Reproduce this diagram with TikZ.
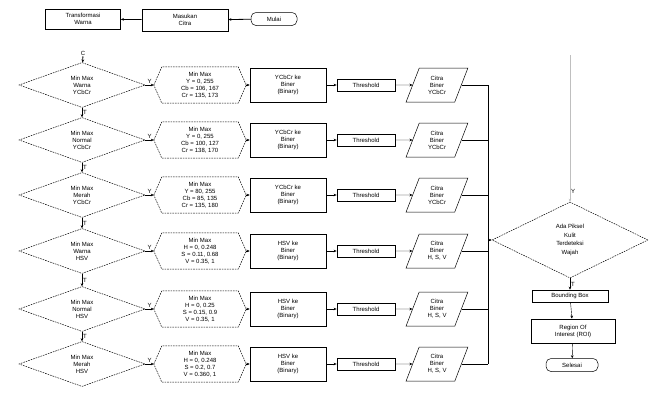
\documentclass[tikz,border=0pt]{standalone}
\usepackage{fontspec}
\setmainfont{Liberation Sans}
\usetikzlibrary{arrows.meta, positioning, shapes.geometric}

\begin{document}
\begin{tikzpicture}[x=1pt,y=-1pt,font=\fontsize{6}{7}\selectfont,>={Stealth[length=3pt,width=2.6pt]},
     proc/.style={draw,align=center,minimum width=76pt,minimum height=34pt,inner sep=1pt,line width=0.6pt},
     thr/.style={draw,align=center,minimum width=58pt,minimum height=12pt,inner sep=1pt,line width=0.8pt},
     dec/.style={diamond,draw,aspect=4,align=center,minimum width=126pt,minimum height=45pt,inner sep=0pt,
                 dash pattern=on 1.6pt off 1pt,line width=0.5pt},
     hexa/.style={align=center,minimum width=76pt,minimum height=36pt,inner sep=1pt},
     io/.style={trapezium,trapezium left angle=70,trapezium right angle=110,trapezium stretches=true,
                draw,align=center,minimum width=62pt,minimum height=34pt,inner sep=1pt,line width=0.5pt},
     term/.style={draw,rounded corners=5pt,align=center,minimum height=13pt,inner sep=1pt,line width=0.5pt},
     lbl/.style={font=\fontsize{6}{7}\selectfont,inner sep=1pt}]
  \useasboundingbox (0,0) rectangle (657,402);

  % top row
  \node[draw,line width=0.8pt,align=center,minimum width=75pt,minimum height=20pt,inner sep=1pt] (warna) at (83,19) {Transformasi\\Warna};
  \node[draw,line width=0.6pt,align=center,minimum width=86pt,minimum height=22pt,inner sep=1pt] (input) at (185,20) {Masukan\\Citra};
  \node[term,minimum width=46pt] (mulai) at (274,19) {Mulai};
  \node[lbl] (con) at (83,53) {C};
  \draw[->,thick] (mulai) -- (input);
  \draw[->,thick] (input) -- (warna);

  % colour tests
  \node[dec] (d1) at (82,85)  {Min Max\\Warna\\YCbCr};
  \node[dec] (d2) at (82,140) {Min Max\\Normal\\YCbCr};
  \node[dec] (d3) at (82,195) {Min Max\\Merah\\YCbCr};
  \node[dec] (d4) at (82,251) {Min Max\\Warna\\HSV};
  \node[dec] (d5) at (82,309) {Min Max\\Normal\\HSV};
  \node[dec] (d6) at (82,364) {Min Max\\Merah\\HSV};

  % thresholds
  \node[hexa] (h1) at (200,85)  {Min Max\\Y = 0, 255\\Cb = 106, 167\\Cr = 135, 173};
  \node[hexa] (h2) at (200,140) {Min Max\\Y = 0, 255\\Cb = 100, 127\\Cr = 138, 170};
  \node[hexa] (h3) at (200,195) {Min Max\\Y = 80, 255\\Cb = 85, 135\\Cr = 135, 180};
  \node[hexa] (h4) at (200,251) {Min Max\\H = 0, 0.248\\S = 0.11, 0.68\\V = 0.35, 1};
  \node[hexa] (h5) at (200,309) {Min Max\\H = 0, 0.25\\S = 0.15, 0.9\\V = 0.35, 1};
  \node[hexa] (h6) at (200,364) {Min Max\\H = 0, 0.248\\S = 0.2, 0.7\\V = 0.360, 1};
  \foreach \h in {h1,h2,h3,h4,h5,h6}
    \draw[dash pattern=on 1.6pt off 1pt,line width=0.5pt]
      ([xshift=-8]\h.west) -- (\h.north west) -- (\h.north east) -- ([xshift=8]\h.east)
      -- (\h.south east) -- (\h.south west) -- cycle;

  \node[proc] (b1) at (288,85)  {YCbCr ke\\Biner\\(Binary)};
  \node[proc] (b2) at (288,140) {YCbCr ke\\Biner\\(Binary)};
  \node[proc] (b3) at (288,195) {YCbCr ke\\Biner\\(Binary)};
  \node[proc] (b4) at (288,251) {HSV ke\\Biner\\(Binary)};
  \node[proc] (b5) at (288,309) {HSV ke\\Biner\\(Binary)};
  \node[proc] (b6) at (288,364) {HSV ke\\Biner\\(Binary)};

  \node[thr] (t1) at (366,85)  {Threshold};
  \node[thr] (t2) at (366,140) {Threshold};
  \node[thr] (t3) at (366,195) {Threshold};
  \node[thr] (t4) at (366,251) {Threshold};
  \node[thr] (t5) at (366,309) {Threshold};
  \node[thr] (t6) at (366,364) {Threshold};

  \node[io] (p1) at (437,85)  {Citra\\Biner\\YCbCr};
  \node[io] (p2) at (437,140) {Citra\\Biner\\YCbCr};
  \node[io] (p3) at (437,195) {Citra\\Biner\\YCbCr};
  \node[io] (p4) at (437,251) {Citra\\Biner\\H, S, V};
  \node[io] (p5) at (437,309) {Citra\\Biner\\H, S, V};
  \node[io] (p6) at (437,364) {Citra\\Biner\\H, S, V};

  \draw[->,thick] (con) -- (d1);
  \draw[->] (d1) -- node[lbl,right] {T} (d2);
  \draw[->] (d2) -- node[lbl,right] {T} (d3);
  \draw[->] (d3) -- node[lbl,right] {T} (d4);
  \draw[->] (d4) -- node[lbl,right] {T} (d5);
  \draw[->] (d5) -- node[lbl,right] {T} (d6);
  \foreach \i in {1,...,6} {
    \draw[->] (d\i) -- node[lbl,above] {Y} ([xshift=-8]h\i.west);
    \draw[->] ([xshift=8]h\i.east) -- (b\i);
    \draw[->] (b\i) -- (t\i);
    \draw[->] (t\i) -- (p\i);
  }

  % merge and decision
  \coordinate (bus1) at (488,85);
  \coordinate (bus6) at (488,364);
  \foreach \i in {1,...,6}
    \draw[thick] (p\i.east) -- (p\i.east -| bus1);
  \draw[thick] (bus1) -- (bus6);

  \node[dec,aspect=3,minimum width=156pt,minimum height=76pt,font=\fontsize{6}{8.5}\selectfont] (cek) at (570,240) {Ada Piksel\\Kulit\\Terdeteksi\\Wajah};
  \coordinate (loop) at (570,55);
  \draw[->] (cek.west -| bus1) -- (cek.west);
  \draw[->,black!25] (loop) -- node[lbl,right,black,pos=0.93] {Y} (cek.north);

  \node[draw,line width=0.6pt,minimum width=76pt,minimum height=12pt,inner sep=1pt] (bbox) at (570,296) {Bounding Box};
  \node[draw,line width=0.8pt,align=center,minimum width=84pt,minimum height=24pt,inner sep=1pt] (roi) at (573,331) {Region Of\\Interest (ROI)};
  \node[term,minimum width=52pt] (selesai) at (572,365) {Selesai};
  \draw[->] (cek) -- node[lbl,right] {T} (bbox);
  \draw[->] (bbox) -- (roi);
  \draw[->] (roi) -- (selesai);
\end{tikzpicture}
\end{document}
